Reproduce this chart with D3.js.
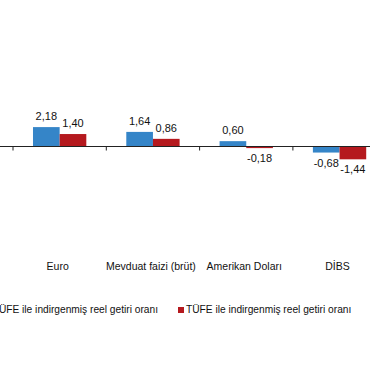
<!DOCTYPE html>
<html>
<head>
<meta charset="utf-8">
<script src="https://cdn.jsdelivr.net/npm/d3@7"></script>
<style>
  body { margin: 0; background: #fff; }
  svg text { font-family: "Liberation Sans", Arial, sans-serif; fill: #111; }
</style>
</head>
<body>
<div id="chart"></div>
<script>
// categories and the two series (left part of the original chart is cut off)
let categories = ["Euro", "Mevduat faizi (brüt)", "Amerikan Doları", "DİBS"];
let seriesNames = ["ÜFE ile indirgenmiş reel getiri oranı", "TÜFE ile indirgenmiş reel getiri oranı"];
let ufeValues = [2.18, 1.64, 0.60, -0.68];
let tufeValues = [1.40, 0.86, -0.18, -1.44];
let colors = ["#3585c8", "#b5191e"];

let width = 370, height = 380;
let zeroY = 146.5;

let svg = d3.select("#chart").append("svg")
    .attr("width", width)
    .attr("height", height);

// one band per category
let x0 = d3.scaleBand()
    .domain(categories)
    .range([13, 13 + 93.3 * categories.length])
    .paddingInner(0);

// the two bars inside each band
let x1 = d3.scaleBand()
    .domain([0, 1])
    .range([0, x0.bandwidth()])
    .paddingInner(0)
    .paddingOuter(0.75);

let y = d3.scaleLinear()
    .domain([-3, 3])
    .range([zeroY + 26.7, zeroY - 26.7]);

let rows = categories.map((c, i) => ({cat: c, vals: [ufeValues[i], tufeValues[i]]}));

// turkish style: comma decimal, plain hyphen for minus
let fmt = v => d3.format(".2f")(v).replace(".", ",").replace("\u2212", "-");

// bars
let groups = svg.selectAll("g.cat")
    .data(rows)
    .enter()
    .append("g")
    .attr("class", "cat")
    .attr("transform", d => `translate(${x0(d.cat)},0)`);

groups.selectAll("rect")
    .data(d => d.vals.map((v, k) => ({k: k, v: v})))
    .enter()
    .append("rect")
    .attr("x", d => x1(d.k))
    .attr("y", d => y(Math.max(0, d.v)))
    .attr("width", x1.bandwidth())
    .attr("height", d => Math.abs(y(d.v) - y(0)))
    .attr("fill", d => colors[d.k]);

// value labels
groups.selectAll("text.val")
    .data(d => d.vals.map((v, k) => ({k: k, v: v})))
    .enter()
    .append("text")
    .attr("class", "val")
    .attr("x", d => x1(d.k) + x1.bandwidth() / 2)
    .attr("y", d => d.v >= 0 ? y(d.v) - 7 : y(d.v) + 14)
    .attr("text-anchor", "middle")
    .style("font-size", "11px")
    .text(d => fmt(d.v));

// category axis along zero line
svg.append("line")
    .attr("x1", 0)
    .attr("x2", width)
    .attr("y1", y(0))
    .attr("y2", y(0))
    .attr("stroke", "#222")
    .attr("stroke-width", 1);

let tickPos = categories.map(c => x0(c)).concat([x0.range()[1]]);
svg.selectAll("line.tick")
    .data(tickPos)
    .enter()
    .append("line")
    .attr("class", "tick")
    .attr("x1", d => d)
    .attr("x2", d => d)
    .attr("y1", y(0))
    .attr("y2", y(0) + 4)
    .attr("stroke", "#222");

// category labels
svg.selectAll("text.cat")
    .data(categories)
    .enter()
    .append("text")
    .attr("class", "cat")
    .attr("x", d => x0(d) + x0.bandwidth() / 2 - 2)
    .attr("y", 270)
    .attr("text-anchor", "middle")
    .style("font-size", "10.5px")
    .text(d => d);

// legend
let legendY = 313;
let legendEnds = [158, null];
let legendStarts = [null, 186];

seriesNames.forEach((name, k) => {
    let t = svg.append("text")
        .attr("y", legendY)
        .style("font-size", "10.2px")
        .text(name);
    if (k == 0) {
        t.attr("x", legendEnds[0]).attr("text-anchor", "end");
        svg.append("rect")
            .attr("x", legendEnds[0] - t.node().getComputedTextLength() - 8)
            .attr("y", legendY - 6)
            .attr("width", 6)
            .attr("height", 6)
            .attr("fill", colors[0]);
    } else {
        t.attr("x", legendStarts[1]);
        svg.append("rect")
            .attr("x", legendStarts[1] - 8)
            .attr("y", legendY - 6)
            .attr("width", 6)
            .attr("height", 6)
            .attr("fill", colors[1]);
    }
});
</script>
</body>
</html>
